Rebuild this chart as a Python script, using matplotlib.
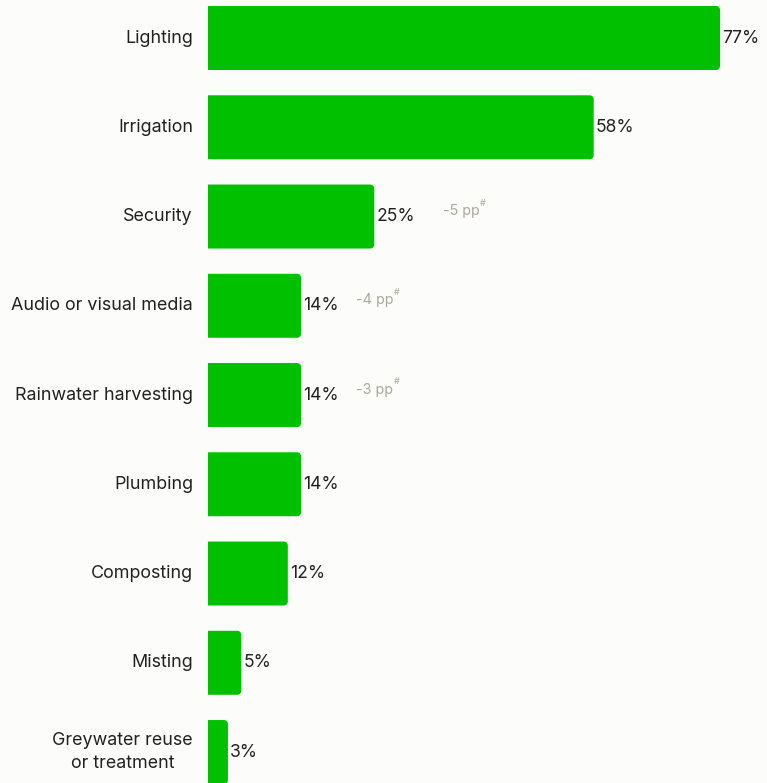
import matplotlib
matplotlib.use('Agg')
import matplotlib.pyplot as plt
import numpy as np
from matplotlib.patches import Polygon

# data
categories = ['Lighting', 'Irrigation', 'Security', 'Audio or visual media',
              'Rainwater harvesting', 'Plumbing', 'Composting', 'Misting',
              'Greywater reuse\nor treatment']
values = [77, 58, 25, 14, 14, 14, 12, 5, 3]
changes = [None, None, '-5 pp', '-4 pp', '-3 pp', None, None, None, None]
change_x = [None, None, 35.3, 22.3, 22.3, None, None, None, None]

BG = '#fcfcfa'
GREEN = '#00c000'
TXT = '#222222'
GREY = '#a9a99c'

plt.rcParams['font.family'] = ['Inter', 'DejaVu Sans']

fig = plt.figure(figsize=(7.67, 7.83), dpi=100, facecolor=BG)
ax = fig.add_axes([208/767, 0, 1 - 208/767, 1])
ax.set_facecolor(BG)

px = 6.65      # pixels per percent
py = 89.25     # pixels per bar slot
ax.set_xlim(0, (767 - 208) / px)
ax.set_ylim(8.347, -0.426)
h = 0.717
rx, ry = 4 / px, 4 / py


def right_rounded(x, y0, y1):
    # bar outline with only the right corners rounded
    t = np.linspace(0, np.pi / 2, 8)
    top = np.column_stack([x - rx + rx * np.sin(t), y0 + ry - ry * np.cos(t)])
    bot = np.column_stack([x - rx + rx * np.cos(t), y1 - ry + ry * np.sin(t)])
    return np.vstack([[0, y0], top, bot, [0, y1]])


for i, (cat, v) in enumerate(zip(categories, values)):
    ax.add_patch(Polygon(right_rounded(v, i - h/2, i + h/2), closed=True,
                         facecolor=GREEN, edgecolor='none'))
    ax.text(v + 0.3, i, f'{v}%', va='center', ha='left', fontsize=12.6, color=TXT)
    ax.text(-15/px, i, cat, va='center', ha='right', fontsize=12.9, color=TXT,
            linespacing=1.45, multialignment='center')
    if changes[i]:
        ax.text(change_x[i], i - 0.06, changes[i], va='center', ha='left',
                fontsize=10.3, color=GREY)
        ax.text(change_x[i] + 5.6, i - 0.15, '#', va='center', ha='left',
                fontsize=6.5, color=GREY)

ax.axis('off')
fig.savefig('out.png', dpi=100, facecolor=BG)
